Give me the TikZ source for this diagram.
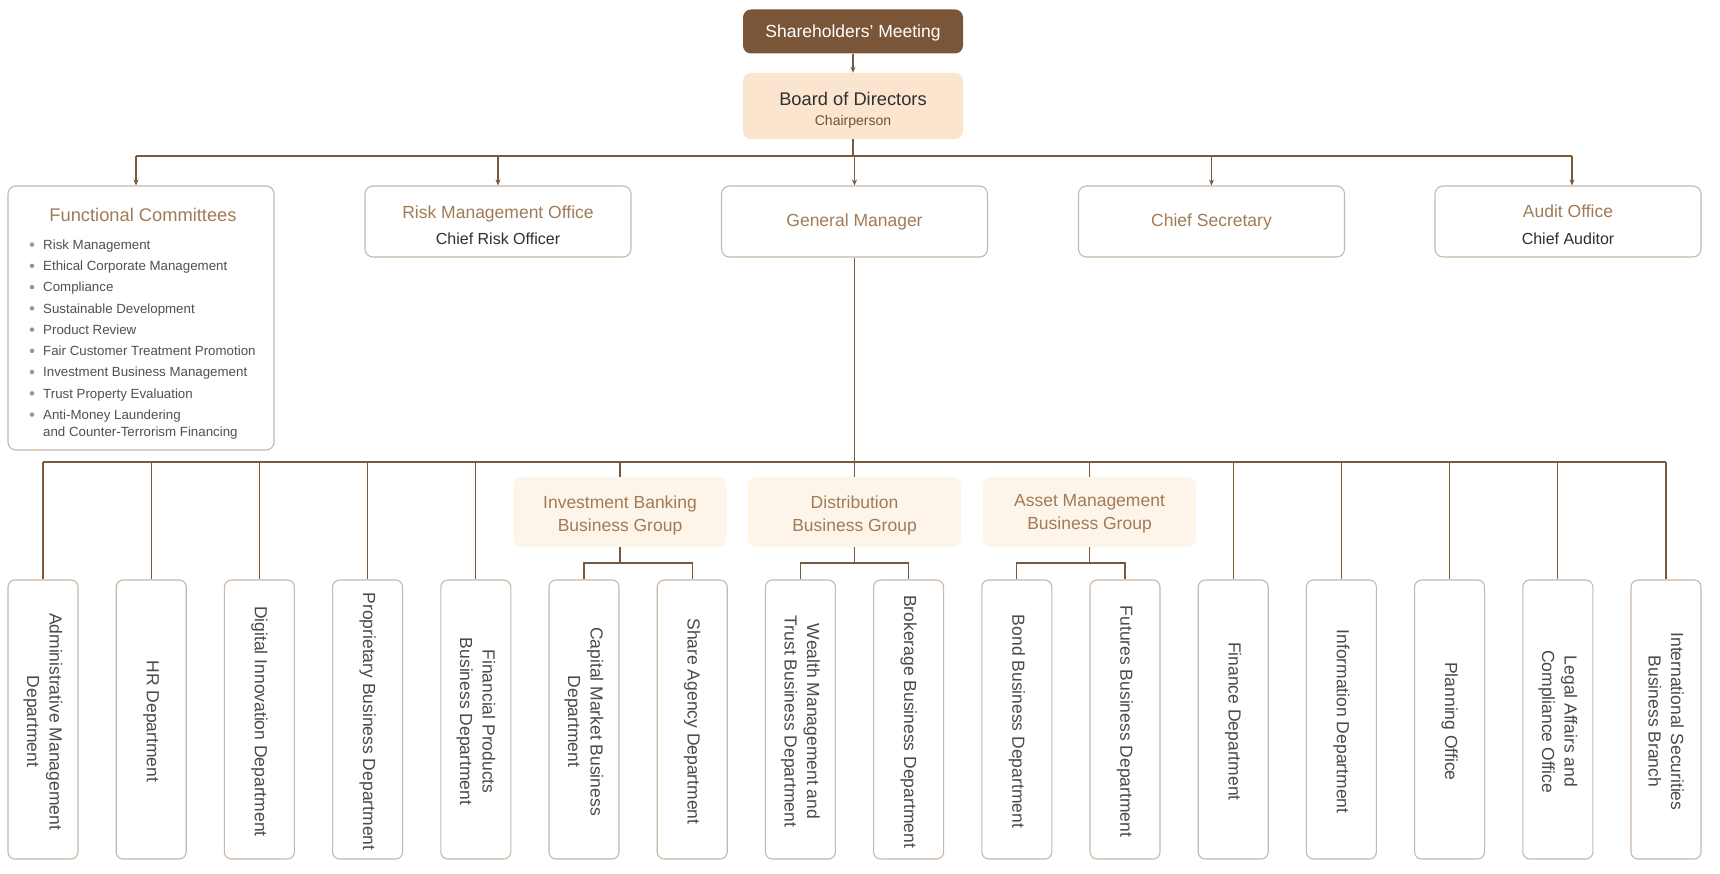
\documentclass[tikz,border=0pt]{standalone}
\usepackage{fontspec}
\setmainfont{Liberation Sans}
\usetikzlibrary{arrows.meta}
\definecolor{linec}{HTML}{7A5A3E}
\definecolor{boxline}{HTML}{C9B7A8}
\definecolor{shfill}{HTML}{7A5538}
\definecolor{bdfill}{HTML}{FBE5CF}
\definecolor{grfill}{HTML}{FEF5EA}
\definecolor{titlec}{HTML}{A17B58}
\definecolor{darkt}{HTML}{2F2F2F}
\definecolor{chairc}{HTML}{6E5139}
\definecolor{itemc}{HTML}{505050}
\definecolor{bulc}{HTML}{A8927F}
\definecolor{deptt}{HTML}{4A4A4A}
\begin{document}
\begin{tikzpicture}[x=1pt,y=-1pt,
  conn/.style={draw=linec,line width=1.2pt},
  arr/.style={conn,-{Stealth[length=6pt,width=5pt]}},
  boxbase/.style={draw=boxline,line width=1.1pt,fill=white,inner sep=0pt},
  topbox/.style={boxbase,rounded corners=8pt,minimum width=266pt,minimum height=71pt},
  deptbox/.style={boxbase,rounded corners=7pt,minimum width=70pt,minimum height=279pt},
  grpbox/.style={fill=grfill,rounded corners=8pt,minimum width=213pt,minimum height=70pt,inner sep=0pt},
  grptext/.style={align=center,text=titlec,font=\fontsize{17.5}{23}\selectfont,inner sep=0pt},
  ttl/.style={anchor=base,text=titlec,font=\fontsize{17.5}{21}\selectfont,inner sep=0pt},
  subt/.style={anchor=base,text=darkt,font=\fontsize{16}{19}\selectfont,inner sep=0pt},
  itemt/.style={anchor=base west,text=itemc,font=\fontsize{13.3}{16}\selectfont,inner sep=0pt},
  bul/.style={circle,fill=bulc,inner sep=0pt,minimum size=4.5pt},
  depttext/.style={rotate=-90,align=center,text=deptt,font=\fontsize{17.5}{22.5}\selectfont,inner sep=0pt}
]
\useasboundingbox (0,0) rectangle (1720,874);

% top
\node[fill=shfill,rounded corners=8pt,minimum width=220pt,minimum height=44pt,inner sep=0pt] (sh) at (853,31.5) {};
\node[anchor=base,text=white,font=\fontsize{17.5}{21}\selectfont,inner sep=0pt] (shT) at (853,37.8) {Shareholders' Meeting};
\node[fill=bdfill,rounded corners=8pt,minimum width=220pt,minimum height=66pt,inner sep=0pt] (board) at (853,106) {};
\node[anchor=base,text=darkt,font=\fontsize{18.3}{21}\selectfont,inner sep=0pt] (boardT) at (853,106) {Board of Directors};
\node[anchor=base,text=chairc,font=\fontsize{14}{17}\selectfont,inner sep=0pt] (boardS) at (853,125.5) {Chairperson};
\draw[arr] (sh.south) -- (board.north);

% second row
\node[boxbase,rounded corners=8pt,minimum width=266pt,minimum height=264pt] (fc) at (141,318) {};
\node[anchor=base,text=titlec,font=\fontsize{18.3}{21}\selectfont,inner sep=0pt] (fcT) at (143,221.5) {Functional Committees};
\foreach \k/\t in {0/Risk Management,1/Ethical Corporate Management,2/Compliance,3/Sustainable Development,4/Product Review,5/Fair Customer Treatment Promotion,6/Investment Business Management,7/Trust Property Evaluation,8/Anti-Money Laundering}{
  \node[itemt] (fci\k) at (43,249.3+21.25*\k) {\t};
  \node[bul] (fcb\k) at (32,244.6+21.25*\k) {};
}
\node[itemt] (fci9) at (43,436.8) {and Counter-Terrorism Financing};

\node[topbox] (risk) at (498,221.5) {};
\node[ttl] (riskT) at (498,218.3) {Risk Management Office};
\node[subt] (riskS) at (498,244.5) {Chief Risk Officer};
\node[topbox] (gm) at (854.5,221.5) {};
\node[ttl] (gmT) at (854.5,226.8) {General Manager};
\node[topbox] (cs) at (1211.5,221.5) {};
\node[ttl] (csT) at (1211.5,226.8) {Chief Secretary};
\node[topbox] (audit) at (1568,221.5) {};
\node[ttl] (auditT) at (1568,217.8) {Audit Office};
\node[subt] (auditS) at (1568,244.5) {Chief Auditor};

\coordinate (busT) at (853,156);
\coordinate (aFC) at (136,156);
\coordinate (aAU) at (1572,156);
\draw[conn] (board.south) -- (busT);
\draw[conn] (aFC) -- (aAU);
\draw[arr] (aFC) -- (aFC |- fc.north);
\draw[arr] (aAU) -- (aAU |- audit.north);
\foreach \n in {risk,gm,cs}{
  \draw[arr] (\n.north |- busT) -- (\n.north);
}

% lower bus
\coordinate (busB) at (854.5,462);
\draw[conn] (gm.south) -- (busB);

% groups
\node[grpbox] (ib) at (620,512) {};
\node[grptext] (ibT) at (620,515) {Investment Banking\\Business Group};
\node[grpbox] (dist) at (854.5,512) {};
\node[grptext] (distT) at (854.5,515) {Distribution\\Business Group};
\node[grpbox] (am) at (1089.5,512) {};
\node[grptext] (amT) at (1089.5,514) {Asset Management\\Business Group};

% departments
\foreach \i/\t in {0/{Administrative Management\\Department},1/{HR Department},2/{Digital Innovation Department},3/{Proprietary Business Department},4/{Financial Products\\Business Department},5/{Capital Market Business\\Department},6/{Share Agency Department},7/{Wealth Management and\\Trust Business Department},8/{Brokerage Business Department},9/{Bond Business Department},10/{Futures Business Department},11/{Finance Department},12/{Information Department},13/{Planning Office},14/{Legal Affairs and\\Compliance Office},15/{International Securities\\Business Branch}}{
  \node[deptbox] (d\i) at (43+108.2*\i,719.5) {};
  \node[depttext] (dt\i) at (43+108.2*\i,721.5) {\t};
}

\draw[conn] (d0.north |- busB) -- (d15.north |- busB);
\foreach \i in {0,1,2,3,4,11,12,13,14,15}{
  \draw[conn] (d\i.north |- busB) -- (d\i.north);
}
\foreach \g in {ib,dist,am}{
  \draw[conn] (\g.north |- busB) -- (\g.north);
}

% group brackets
\coordinate (ibj) at (620,563);
\coordinate (distj) at (854.5,563);
\coordinate (amj) at (1089.5,563);
\draw[conn] (ib.south) -- (ibj);
\draw[conn] (dist.south) -- (distj);
\draw[conn] (am.south) -- (amj);
\draw[conn] (d5.north) -- (d5.north |- ibj) -- (d6.north |- ibj) -- (d6.north);
\draw[conn] (d7.north) -- (d7.north |- distj) -- (d8.north |- distj) -- (d8.north);
\draw[conn] (d9.north) -- (d9.north |- amj) -- (d10.north |- amj) -- (d10.north);
\end{tikzpicture}
\end{document}
